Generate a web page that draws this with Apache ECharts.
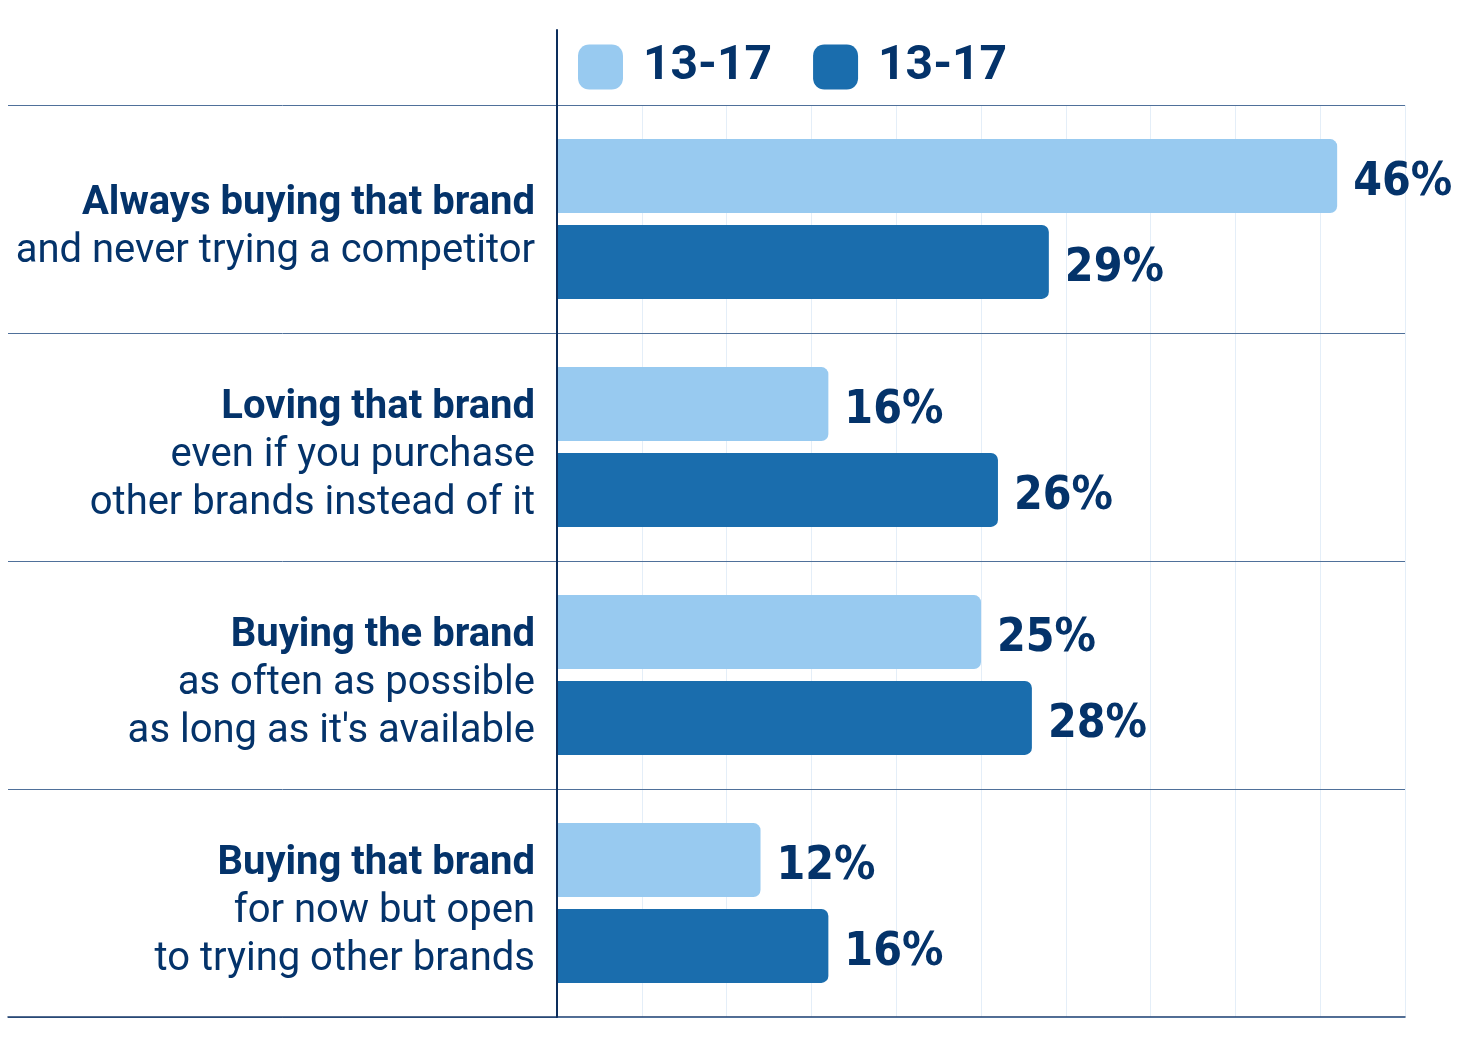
<!DOCTYPE html>
<html>
<head>
<meta charset="utf-8">
<script src="https://cdn.jsdelivr.net/npm/echarts@6/dist/echarts.min.js"></script>
<style>
  html, body { margin: 0; padding: 0; background: #fff; }
  #chart { width: 1457px; height: 1046px; }
</style>
</head>
<body>
<div id="chart"></div>
<script>
// brand attitude, 13-17 vs 13-17
const catBold = [
  "Always buying that brand",
  "Loving that brand",
  "Buying the brand",
  "Buying that brand",
];
const catRest = [
  ["and never trying a competitor"],
  ["even if you purchase", "other brands instead of it"],
  ["as often as possible", "as long as it's available"],
  ["for now but open", "to trying other brands"],
];
const seriesNames = ["13-17", "13-17 "];
const lightVals = [46, 16, 25, 12];
const darkVals = [29, 26, 28, 16];
const axisTicks = { min: 0, max: 50, interval: 5 };

const NAVY = "#04336a";
const LIGHT = "#98caf0";
const DARK = "#1a6dad";
const SEP = "#4f709a";

const catLabels = catBold.map((b, i) =>
  "{b|" + b + "}\n" + catRest[i].map(r => "{r|" + r + "}").join("\n"));

const chart = echarts.init(document.getElementById("chart"));

const valueLabel = {
  show: true,
  position: "right",
  distance: 16,
  offset: [0, 7],
  formatter: "{c}%",
  color: NAVY,
  fontFamily: "'Liberation Sans Narrow', 'DejaVu Sans Condensed', sans-serif",
  fontWeight: "bold",
  fontSize: 46,
};

chart.setOption({
  animation: false,
  legend: {
    left: 578,
    top: 43,
    padding: 0,
    itemWidth: 45,
    itemHeight: 45,
    itemGap: 41,
    icon: "roundRect",
    data: seriesNames,
    formatter: name => "{g|}{t|" + name.trim() + "}",
    textStyle: {
      rich: {
        g: { width: 15 },
        t: { color: NAVY, fontFamily: "Roboto", fontWeight: "bold", fontSize: 48 },
      },
    },
  },
  grid: [
    { left: 557, top: 105, right: 52, bottom: 29 },
    { left: 8, top: 105, width: 549, bottom: 29 },
    { left: 557, top: 30, right: 52, height: 75 },
  ],
  xAxis: [
    {
      gridIndex: 0, type: "value",
      min: axisTicks.min, max: axisTicks.max, interval: axisTicks.interval,
      axisLabel: { show: false },
      axisTick: { show: false },
      axisLine: { show: true, lineStyle: { color: "#1c3d6c", width: 1.5 } },
      splitLine: { show: true, lineStyle: { color: "#e4eef8", width: 1 } },
    },
    {
      gridIndex: 1, type: "value", min: 0, max: 1,
      axisLabel: { show: false },
      axisTick: { show: false },
      axisLine: { show: true, lineStyle: { color: "#1c3d6c", width: 1.5 } },
      splitLine: { show: false },
    },
    { gridIndex: 2, type: "value", show: false },
  ],
  yAxis: [
    {
      gridIndex: 0, type: "category", inverse: true, data: catLabels,
      axisTick: { show: false },
      axisLine: { show: true, onZero: false, lineStyle: { color: "#0c2e5c", width: 2 } },
      splitLine: { show: true, interval: 0, lineStyle: { color: SEP, width: 1 } },
      axisLabel: {
        margin: 22,
        interval: 0,
        align: "right",
        padding: [18, 0, 0, 0],
        rich: {
          b: { color: NAVY, fontFamily: "Roboto", fontWeight: "bold", fontSize: 40, lineHeight: 48, align: "right" },
          r: { color: NAVY, fontFamily: "Roboto", fontWeight: "normal", fontSize: 40, lineHeight: 48, align: "right" },
        },
      },
      z: 5,
    },
    {
      gridIndex: 1, type: "category", inverse: true, data: catLabels,
      axisTick: { show: false },
      axisLine: { show: false },
      axisLabel: { show: false },
      splitLine: { show: true, interval: 0, lineStyle: { color: SEP, width: 1 } },
    },
    {
      gridIndex: 2, type: "category", data: [""],
      axisTick: { show: false },
      axisLabel: { show: false },
      splitLine: { show: false },
      axisLine: { show: true, lineStyle: { color: "#0c2e5c", width: 2 } },
    },
  ],
  series: [
    {
      name: seriesNames[0], type: "bar", xAxisIndex: 0, yAxisIndex: 0,
      data: lightVals, barWidth: 74, barGap: "16%",
      itemStyle: { color: LIGHT, borderRadius: [0, 7, 7, 0] },
      label: valueLabel,
    },
    {
      name: seriesNames[1], type: "bar", xAxisIndex: 0, yAxisIndex: 0,
      data: darkVals, barWidth: 74, barGap: "16%",
      itemStyle: { color: DARK, borderRadius: [0, 7, 7, 0] },
      label: valueLabel,
    },
  ],
});
</script>
</body>
</html>
